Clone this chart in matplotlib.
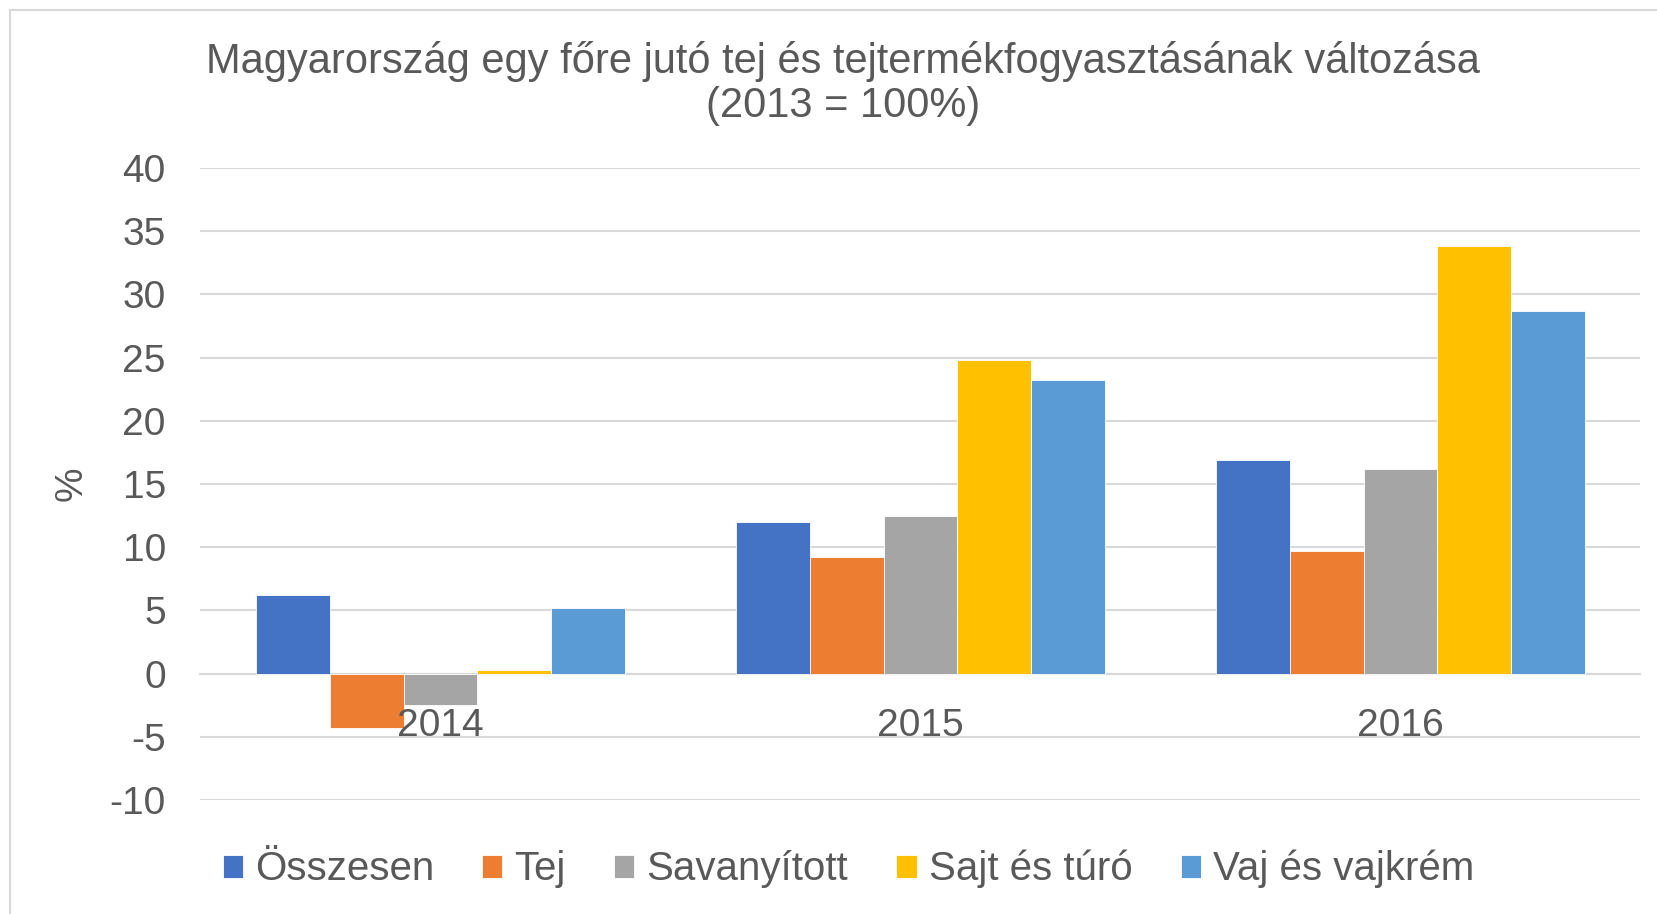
import matplotlib.pyplot as plt
import numpy as np
from matplotlib.patches import Rectangle

plt.rcParams['font.family'] = ['Liberation Sans', 'DejaVu Sans']
plt.rcParams['axes.unicode_minus'] = False

# data (% change vs. 2013)
years = ['2014', '2015', '2016']
series = ['Összesen', 'Tej', 'Savanyított', 'Sajt és túró', 'Vaj és vajkrém']
osszesen = [6.2, 12.0, 16.9]
tej = [-4.3, 9.2, 9.7]
savanyitott = [-2.5, 12.5, 16.2]
sajt = [0.25, 24.8, 33.8]
vaj = [5.2, 23.2, 28.7]
colors = ['#4472C4', '#ED7D31', '#A5A5A5', '#FFC000', '#5B9BD5']

values = [osszesen, tej, savanyitott, sajt, vaj]
text_color = '#595959'
grid_color = '#D9D9D9'

fig = plt.figure(figsize=(16.57, 9.14), dpi=100)
ax = fig.add_axes([0.121, 0.1247, 0.869, 0.6915])

x = np.arange(len(years))
bar_w = 0.1535
for i, (name, vals) in enumerate(zip(series, values)):
    offset = (i - 2) * bar_w
    ax.bar(x + offset, vals, width=bar_w, color=colors[i], label=name,
           edgecolor='white', linewidth=0.6, zorder=3)

ax.set_xlim(-0.5, 2.5)
ax.set_ylim(-10, 40)
ax.set_yticks(range(-10, 41, 5))
ax.yaxis.grid(True, color=grid_color, linewidth=1.5, zorder=0)
for s in ['top', 'right', 'left']:
    ax.spines[s].set_visible(False)
ax.spines['bottom'].set_position(('data', 0))
ax.spines['bottom'].set_color(grid_color)
ax.spines['bottom'].set_linewidth(1.5)
ax.set_xticks(x)
ax.set_xticklabels(years)
ax.tick_params(axis='both', length=0, labelsize=28, colors=text_color)
ax.tick_params(axis='x', pad=25)
ax.tick_params(axis='y', pad=25)
ax.xaxis.set_zorder(5)
ax.set_ylabel('%', fontsize=28, color=text_color, labelpad=14)

fig.text(0.509, 0.933, 'Magyarország egy főre jutó tej és tejtermékfogyasztásának változása',
         ha='center', va='center', fontsize=30, color=text_color)
fig.text(0.509, 0.884, '(2013 = 100%)', ha='center', va='center',
         fontsize=30, color=text_color)

leg = fig.legend(loc='center', bbox_to_anchor=(0.512, 0.049), ncol=5, frameon=False,
                 fontsize=29, handlelength=0.5, handleheight=0.5,
                 handletextpad=0.3, columnspacing=1.2)
for t in leg.get_texts():
    t.set_color(text_color)

# light chart-area border
fig.patches.append(Rectangle((0.006, -0.01), 0.999, 0.999, transform=fig.transFigure,
                             fill=False, edgecolor=grid_color, linewidth=1.5))

fig.savefig('out.png', dpi=100)
